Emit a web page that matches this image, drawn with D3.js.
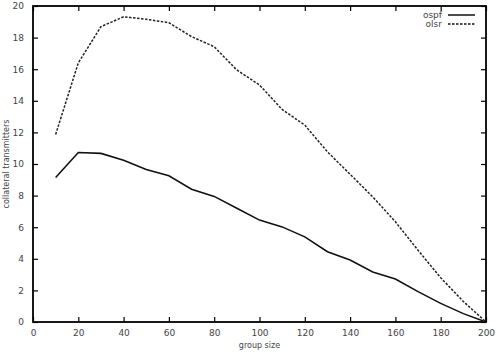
<!DOCTYPE html>
<html><head><meta charset="utf-8">
<script src="https://cdn.jsdelivr.net/npm/d3@7"></script>
<style>body{margin:0;background:#fff}svg{display:block}text{font-family:"DejaVu Sans",sans-serif}</style>
</head><body>
<svg id="c" width="496" height="354"></svg>
<script>
const groupSize = [10,20,30,40,50,60,70,80,90,100,110,120,130,140,150,160,170,180,190,200];
const ospf = [9.15,10.73,10.67,10.24,9.65,9.25,8.4,7.95,7.2,6.45,6.02,5.39,4.45,3.92,3.17,2.72,1.92,1.18,0.53,0];
const olsr = [11.87,16.4,18.69,19.32,19.16,18.94,18.06,17.42,15.95,15.0,13.45,12.46,10.77,9.35,7.92,6.34,4.54,2.8,1.3,0];
const xTicks = [0,20,40,60,80,100,120,140,160,180,200];
const yTicks = [0,2,4,6,8,10,12,14,16,18,20];

const svg = d3.select("#c");
const L=33,R=486,T=6,B=322;
const x = d3.scaleLinear().domain([0,200]).range([L,R]);
const y = d3.scaleLinear().domain([0,20]).range([B,T]);
const tickCol="#444", fs=9;

// axes (bottom/left with labels, top/right mirror ticks)
const gB = svg.append("g").attr("transform",`translate(0,${B})`)
  .call(d3.axisBottom(x).tickValues(xTicks).tickSizeInner(-5).tickSizeOuter(0).tickPadding(10));
const gT = svg.append("g").attr("transform",`translate(0,${T})`)
  .call(d3.axisTop(x).tickValues(xTicks).tickSizeInner(-5).tickSizeOuter(0).tickFormat(""));
const gL = svg.append("g").attr("transform",`translate(${L},0)`)
  .call(d3.axisLeft(y).tickValues(yTicks).tickSizeInner(-5).tickSizeOuter(0).tickPadding(9));
const gR = svg.append("g").attr("transform",`translate(${R},0)`)
  .call(d3.axisRight(y).tickValues(yTicks).tickSizeInner(-5).tickSizeOuter(0).tickFormat(""));
[gB,gT,gL,gR].forEach(g=>{
  g.select(".domain").remove();
  g.selectAll(".tick line").attr("stroke","#000").attr("stroke-width",1.2);
  g.selectAll(".tick text").attr("fill",tickCol).style("font-size",fs+"px").style("font-family","DejaVu Sans, sans-serif");
});
gB.selectAll(".tick text").attr("dy","0.45em");

// frame
svg.append("rect").attr("x",L).attr("y",T).attr("width",R-L).attr("height",B-T)
  .attr("fill","none").attr("stroke","#000").attr("stroke-width",1.8);

const line = d3.line().x((d,i)=>x(groupSize[i])).y(d=>y(d));
svg.append("path").datum(ospf).attr("d",line).attr("fill","none")
  .attr("stroke","#111").attr("stroke-width",1.6);
svg.append("path").datum(olsr).attr("d",line).attr("fill","none")
  .attr("stroke","#222").attr("stroke-width",1.5).attr("stroke-dasharray","2.5,1.5");

// legend
const leg = [{n:"ospf",dash:null,yy:15},{n:"olsr",dash:"2.5,1.5",yy:24}];
leg.forEach(d=>{
  svg.append("text").attr("x",442).attr("y",d.yy).attr("dy","0.35em").attr("text-anchor","end")
    .attr("fill",tickCol).style("font-size","9px").text(d.n);
  svg.append("line").attr("x1",448).attr("x2",475).attr("y1",d.yy).attr("y2",d.yy)
    .attr("stroke","#111").attr("stroke-width",1.5).attr("stroke-dasharray",d.dash);
});

// axis titles
svg.append("text").attr("x",(L+R)/2).attr("y",348).attr("text-anchor","middle")
  .attr("fill",tickCol).style("font-size","8px").text("group size");
svg.append("text").attr("transform",`translate(9,${(T+B)/2}) rotate(-90)`).attr("text-anchor","middle")
  .attr("fill",tickCol).style("font-size","8px").text("collateral transmitters");
</script>
</body></html>
